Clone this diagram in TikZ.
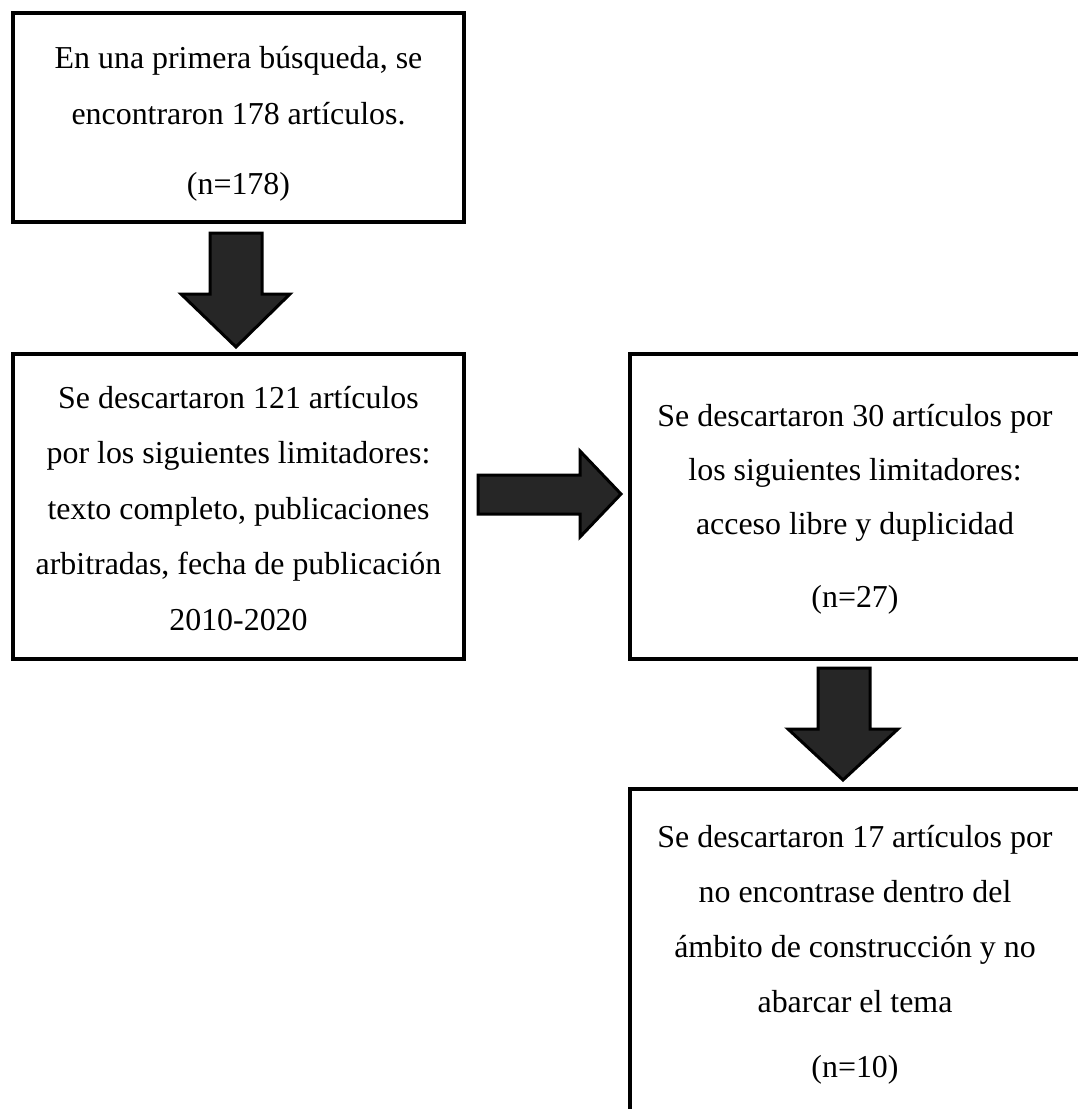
\documentclass[tikz,border=0pt]{standalone}
\usepackage{fontspec}
\setmainfont{Liberation Serif}
\begin{document}
\begin{tikzpicture}[x=1pt,y=-1pt,
  box/.style={draw=black,line width=4pt,fill=white,inner sep=0pt,outer sep=0pt},
  txt/.style={anchor=base,inner sep=0pt,font=\fontsize{31.9}{40}\selectfont},
  blockarrow/.style={draw=black,fill=black!85,line width=3pt,line join=miter}]
\useasboundingbox (0,0) rectangle (1078,1109);
\clip (0,0) rectangle (1078,1109);
\fill[white] (0,0) rectangle (1078,1109);
% boxes
\node[box,minimum width=451pt,minimum height=209pt] (b1) at (238.5,117.5) {};
\node[box,minimum width=451pt,minimum height=305pt] (b2) at (238.5,506.5) {};
\node[box,minimum width=452pt,minimum height=305pt] (b3) at (856,506.5) {};
\node[box,minimum width=452pt,minimum height=351pt] (b4) at (856,964.5) {};
% texts box 1
\node[txt] (t1a) at (238.5,68) {En una primera búsqueda, se};
\node[txt] (t1b) at (238.5,124) {encontraron 178 artículos.};
\node[txt] (t1c) at (238.5,194) {(n=178)};
% texts box 2
\node[txt] (t2a) at (238.5,408) {Se descartaron 121 artículos};
\node[txt] (t2b) at (238.5,463.5) {por los siguientes limitadores:};
\node[txt] (t2c) at (238.5,519) {texto completo, publicaciones};
\node[txt] (t2d) at (238.5,574.5) {arbitradas, fecha de publicación};
\node[txt] (t2e) at (238.5,630) {2010-2020};
% texts box 3
\node[txt] (t3a) at (855,426) {Se descartaron 30 artículos por};
\node[txt] (t3b) at (855,480) {los siguientes limitadores:};
\node[txt] (t3c) at (855,534) {acceso libre y duplicidad};
\node[txt] (t3d) at (855,607) {(n=27)};
% texts box 4
\node[txt] (t4a) at (855,847) {Se descartaron 17 artículos por};
\node[txt] (t4b) at (855,902) {no encontrase dentro del};
\node[txt] (t4c) at (855,957) {ámbito de construcción y no};
\node[txt] (t4d) at (855,1012) {abarcar el tema};
\node[txt] (t4e) at (855,1077) {(n=10)};
% block arrows
\draw[blockarrow] (210,233) -- (262,233) -- (262,294) -- (290,294) -- (236,347) -- (181,294) -- (210,294) -- cycle;
\draw[blockarrow] (478,475) -- (580,475) -- (580,451) -- (621,494) -- (580,537) -- (580,514) -- (478,514) -- cycle;
\draw[blockarrow] (818,668) -- (870,668) -- (870,729) -- (898,729) -- (843,780) -- (788,729) -- (818,729) -- cycle;
\end{tikzpicture}
\end{document}
